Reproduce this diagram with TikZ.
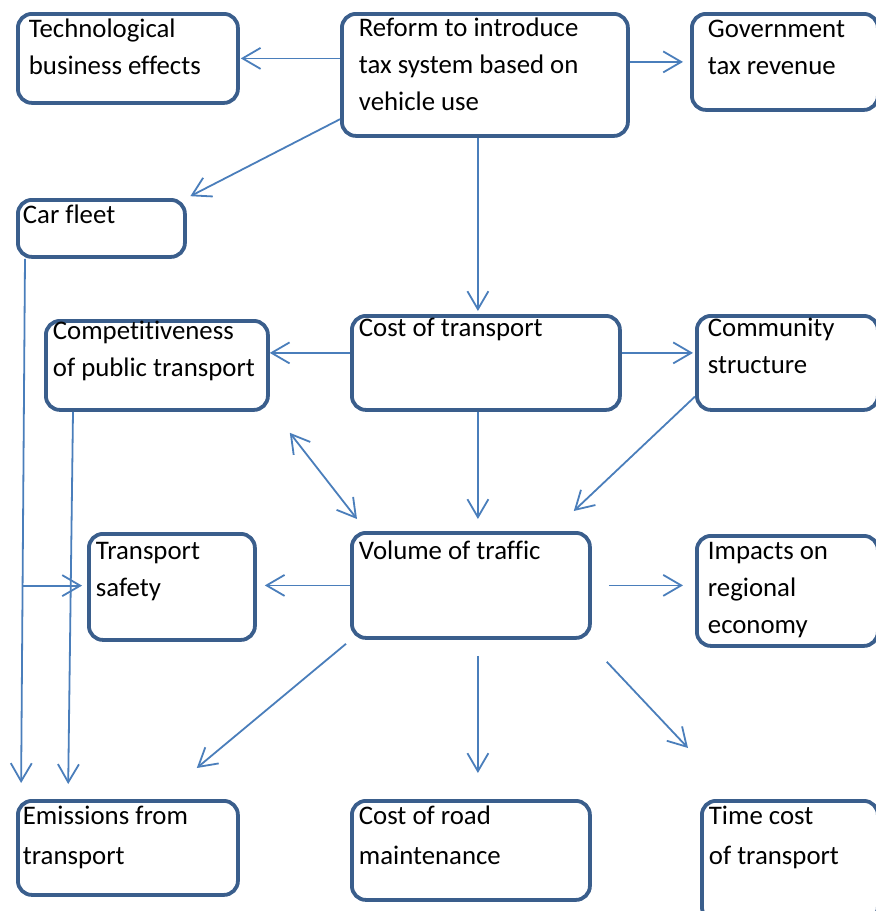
\documentclass[tikz,border=0pt]{standalone}
\usepackage{fontspec}
\setmainfont[Ligatures=NoCommon]{Carlito}
\usepackage{tikz}
\usetikzlibrary{arrows.meta,calc}
\definecolor{boxblue}{HTML}{3A5E8C}
\definecolor{arrowblue}{HTML}{4A7EBB}
\newcommand{\boxtext}[5][24pt]{\parbox[t][#3][t]{#2}{\leftskip=#4\relax\rule{0pt}{#1}#5}}

\begin{document}
\begin{tikzpicture}[
  x=1pt, y=-1pt,
  font=\fontsize{26.8}{37}\selectfont,
  box/.style={draw=boxblue, line width=3.8pt, rounded corners=14pt, anchor=north west, inner sep=0pt},
  lowbox/.style={box, font=\fontsize{26.8}{40}\selectfont},
  arr/.style={draw=arrowblue, line width=1.8pt, -{Straight Barb[length=18pt, width=21pt]}},
  darr/.style={arr, {Straight Barb[length=18pt, width=21pt]}-{Straight Barb[length=18pt, width=21pt]}}]
\useasboundingbox (0,0) rectangle (876,911);
\clip (0,0) rectangle (876,911);
\node[box] (tech) at (16,12) {\boxtext{220pt}{89pt}{11pt}{Technological\\business effects}};
\node[box] (reform) at (340,12) {\boxtext[23pt]{286pt}{122pt}{17pt}{Reform to introduce\\tax system based on\\vehicle use}};
\node[box] (gov) at (690,12) {\boxtext{186pt}{96pt}{16pt}{Government\\tax revenue}};
\node[box] (car) at (16,198) {\boxtext{167pt}{57pt}{5pt}{Car fleet}};
\node[box] (comp) at (44,319) {\boxtext[16pt]{222pt}{89pt}{7pt}{Competitiveness\\of public transport}};
\node[box] (cost) at (350,314) {\boxtext[21pt]{268pt}{94pt}{7pt}{Cost of transport}};
\node[box] (comm) at (695,314) {\boxtext[21pt]{181pt}{94pt}{11pt}{Community\\structure}};
\node[box] (safety) at (87,532) {\boxtext[26pt]{166pt}{106pt}{7pt}{Transport\\safety}};
\node[box] (volume) at (350,531) {\boxtext[27pt]{238pt}{105pt}{7pt}{Volume of traffic}};
\node[box] (impacts) at (695,534) {\boxtext{181pt}{110pt}{11pt}{Impacts on\\regional\\economy}};
\node[lowbox] (emis) at (16,799) {\boxtext{220pt}{94pt}{5pt}{Emissions from\\transport}};
\node[lowbox] (road) at (350,799) {\boxtext{238pt}{99pt}{7pt}{Cost of road\\maintenance}};
\node[lowbox] (time) at (700,799) {\boxtext{176pt}{120pt}{7pt}{Time cost\\of transport}};
\draw[arr, shorten >=1pt] (reform.west |- tech.east) -- (tech.east);
\draw[arr, shorten >=7pt] (reform.east |- gov.west) -- (gov.west);
\draw[arr, shorten >=4pt] (reform.197) -- (car.north east);
\draw[arr, shorten >=3pt] ([xshift=-7pt]reform.south) -- ([xshift=-7pt]reform.south |- cost.north);
\draw[arr] ([yshift=10pt]cost.west) -- ([yshift=10pt]cost.west -| comp.east);
\draw[arr, shorten >=2pt] ([yshift=10pt]cost.east) -- ([yshift=10pt]cost.east -| comm.west);
\draw[arr, shorten >=12pt] ([xshift=-8pt]cost.south) -- ([xshift=-8pt]cost.south |- volume.north);
\draw[arr] (comm.200) -- ([shift={(-18,-20)}]volume.north east);
\draw[darr] ([shift={(20,21)}]comp.south east) -- ([shift={(7,-12)}]volume.north west);
\draw[arr, shorten >=8pt] (volume.west) -- (volume.west -| safety.east);
\draw[arr, shorten <=17pt, shorten >=12pt] (volume.east) -- (volume.east -| impacts.west);
\draw[arr] ([shift={(-4,4)}]volume.south west) -- ([shift={(-43,-31)}]emis.north east);
\draw[arr, shorten <=16pt, shorten >=26pt] ([xshift=7pt]volume.south) -- ([xshift=7pt]volume.south |- road.north);
\draw[arr] ([shift={(15,22)}]volume.south east) -- ([shift={(-12,-51)}]time.north west);
\draw[arr, shorten >=16pt] ([xshift=9pt]car.south west) -- coordinate[pos=0.605] (fork) ([xshift=5pt]emis.north west);
\draw[arr, shorten >=5pt] (fork) -- (fork -| safety.west);
\draw[arr, shorten >=15pt] ([xshift=29pt]comp.south west) -- ([xshift=52pt]emis.north west);
\end{tikzpicture}
\end{document}
